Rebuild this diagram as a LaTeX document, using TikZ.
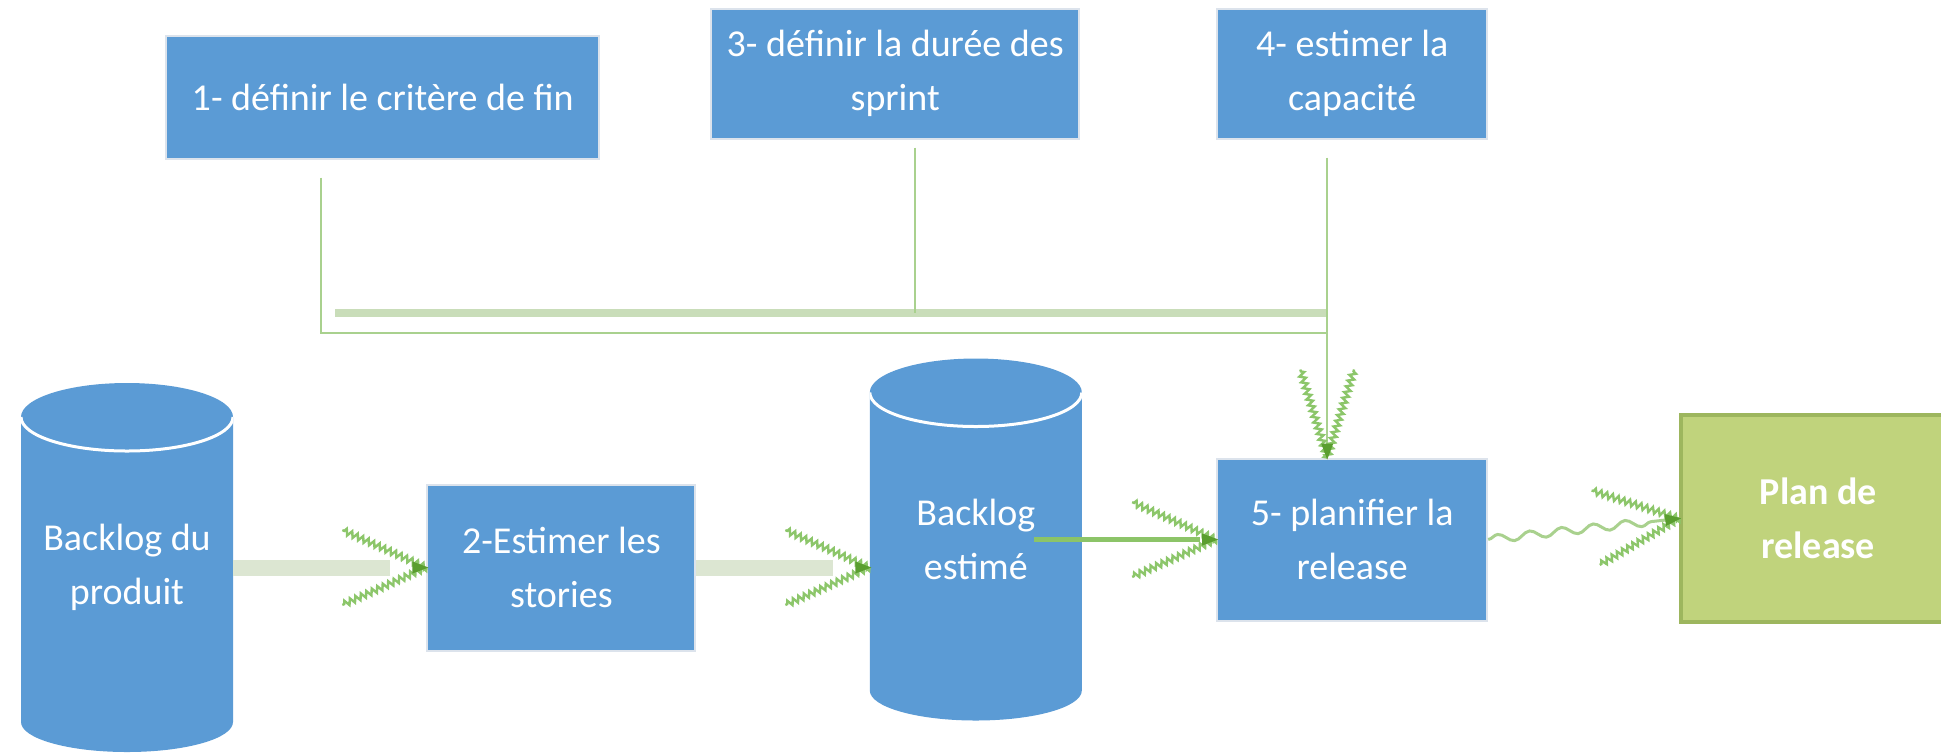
\documentclass[tikz,border=0pt]{standalone}
\usepackage{fontspec}
\setmainfont{Carlito}
\usetikzlibrary{positioning,calc,decorations.pathmorphing,decorations.markings}
\definecolor{boxblue}{HTML}{5B9BD5}
\definecolor{boxrim}{HTML}{DCE3EC}
\definecolor{planfill}{HTML}{C0D37C}
\definecolor{planrim}{HTML}{9DB65E}
\definecolor{wiregreen}{HTML}{A9D18E}
\definecolor{railgreen}{HTML}{C9DDB9}
\definecolor{bandgreen}{HTML}{DCE6D2}
\definecolor{stemgreen}{HTML}{8CC468}
\definecolor{wingreen}{HTML}{8CC66A}
\definecolor{tipgreen}{HTML}{5A9E2F}
\tikzset{
  stepbox/.style = {draw=boxrim, line width=1pt, fill=boxblue, text=white, align=center, inner sep=0pt},
  planbox/.style = {draw=planrim, line width=2pt, fill=planfill, text=white, align=center, inner sep=0pt,
                    font=\fontsize{19}{27}\selectfont\bfseries},
  store/.style   = {minimum width=106pt, inner sep=0pt, text=white, align=center, fill=white,
    path picture={
      \fill[boxblue] ([yshift=-17pt]path picture bounding box.north west)
        -- ([yshift=15pt]path picture bounding box.south west)
        arc[start angle=180, end angle=360, x radius=53pt, y radius=15pt]
        -- ([yshift=-17pt]path picture bounding box.north east)
        arc[start angle=0, end angle=180, x radius=53pt, y radius=17pt] -- cycle;
      \draw[white, line width=1.5pt] ([yshift=-17pt]path picture bounding box.north west)
        arc[start angle=180, end angle=360, x radius=53pt, y radius=17pt];
    }},
  wire/.style    = {draw=wiregreen, line width=1pt},
  rail/.style    = {draw=railgreen, line width=4pt},
  band/.style    = {draw=bandgreen, line width=8pt, shorten >=18pt},
  stem/.style    = {draw=stemgreen, line width=2.5pt, shorten >=8pt},
  wavy/.style    = {postaction={draw=wiregreen, line width=1.5pt, decorate,
                    decoration={snake, amplitude=2pt, segment length=16pt, post length=8pt}}},
  wing/.style    = {draw=wingreen, line width=1.2pt, shorten >=0pt, shorten <=0pt, decorate,
                    decoration={zigzag, segment length=3pt, amplitude=1.5pt}},
  zztip/.style   = {postaction={decorate, decoration={markings, mark=at position 1 with {
                      \draw[wing] (0,0) -- (180-#1:46pt);
                      \draw[wing] (0,0) -- (180+#1:46pt);
                      \fill[tipgreen] (1pt,0) -- (-7pt,3pt) -- (-7pt,-3pt) -- cycle;}}}},
  zztip/.default = 24
}
\begin{document}
\begin{tikzpicture}[x=0.5pt, y=-0.5pt, every node/.style={font=\fontsize{19}{27}\selectfont}]
  \useasboundingbox (0,0) rectangle (1941,752);
  % bottom row
  \node[store, minimum height=184.5pt] (bp) at (127,567.5) {Backlog du\\produit};
  \node[stepbox, minimum width=134pt, minimum height=83pt] (est) [right=96.5pt of bp] {2-Estimer les\\stories};
  \node[store, minimum height=181pt] (be) [right=86.5pt of est, yshift=14pt] {Backlog\\estimé};
  \node[stepbox, minimum width=135pt, minimum height=81pt] (rel) [right=67pt of be] {5- planifier la\\release};
  \node[planbox, minimum width=137pt, minimum height=103.5pt] (plan) [right=95.5pt of rel, yshift=10.5pt] {Plan de\\release};
  % top row
  \node[stepbox, minimum width=135pt, minimum height=65pt] (cap) [above=159pt of rel] {4- estimer la\\capacité};
  \node[stepbox, minimum width=184pt, minimum height=65pt] (dur) [left=68pt of cap] {3- définir la durée des\\sprint};
  \node[stepbox, minimum width=216.5pt, minimum height=61.5pt] (crit) [left=55pt of dur, yshift=-11.75pt] {1- définir le critère de fin};
  % flow
  \draw[band, zztip] (bp.east) -- (est.west);
  \draw[band, zztip] (est.east) -- (est.east -| be.west);
  \coordinate (be out) at ([xshift=-24pt]be.east);
  \draw[stem, zztip] (be out) -- (rel.west);
  \path[wavy, zztip] (rel.east) -- (plan.west);
  % inputs
  \coordinate (drop) at ([xshift=-12.5pt]rel.north);
  \coordinate (corner) at ([xshift=-30.75pt, yshift=-86.5pt]crit.south);
  \coordinate (rail) at ([yshift=10pt]corner);
  \draw[wire, shorten <=9pt] (crit.south -| corner) -- (corner) -- (corner -| drop);
  \draw[rail] ([xshift=7pt]rail) -- (rail -| drop);
  \draw[wire, shorten <=4pt] ([xshift=10pt]dur.south) -- ([xshift=10pt]dur.south |- rail);
  \draw[wire, zztip=17, shorten <=9pt] (drop |- cap.south) -- (drop);
\end{tikzpicture}
\end{document}
